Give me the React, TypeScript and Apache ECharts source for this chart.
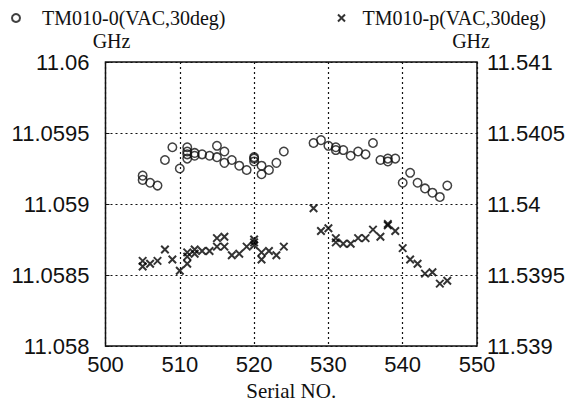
import React, { useEffect, useRef } from "react";
import * as echarts from "echarts";

// TM010-0 mode (left axis, GHz)
const mode0Serial = [
  505, 505, 506, 507, 508, 509, 510, 511, 511, 511, 511, 512, 512, 513, 514, 515, 515, 516, 516, 517, 518, 519,
  520, 520, 520, 521, 521, 522, 523, 524, 528, 529, 530, 531, 531, 532, 533, 534, 535, 536, 537, 538, 538, 539,
  540, 541, 542, 543, 544, 545, 546,
];
const mode0GHz = [
  11.0592, 11.05917, 11.05915, 11.05913, 11.05931, 11.0594, 11.05925, 11.0594, 11.05937, 11.05935, 11.05932,
  11.05936, 11.05934, 11.05935, 11.05934, 11.05941, 11.05933, 11.05937, 11.05929, 11.05931, 11.05927, 11.05924,
  11.05933, 11.05932, 11.0593, 11.05927, 11.05921, 11.05924, 11.05929, 11.05937, 11.05943, 11.05945, 11.05941,
  11.0594, 11.05938, 11.05938, 11.05934, 11.05937, 11.05935, 11.05943, 11.05931, 11.05932, 11.0593, 11.05932,
  11.05915, 11.05922, 11.05915, 11.05911, 11.05908, 11.05905, 11.05913,
];

// TM010-p mode (right axis, GHz)
const modePSerial = [
  505, 505, 506, 507, 508, 509, 510, 511, 511, 511, 512, 512, 513, 514, 515, 515, 516, 516, 517, 518, 519, 520,
  520, 520, 521, 521, 522, 523, 524, 528, 529, 530, 531, 531, 532, 533, 534, 535, 536, 537, 538, 538, 539, 540,
  541, 542, 543, 544, 545, 546,
];
const modePGHz = [
  11.5396, 11.53956, 11.53958, 11.5396, 11.53968, 11.53961, 11.53953, 11.53966, 11.53963, 11.53958, 11.53968,
  11.53965, 11.53967, 11.53967, 11.53976, 11.5397, 11.53977, 11.5397, 11.53964, 11.53965, 11.5397, 11.53975,
  11.53973, 11.53971, 11.53966, 11.53961, 11.53967, 11.53964, 11.5397, 11.53997, 11.53981, 11.53983, 11.53976,
  11.53973, 11.53972, 11.53972, 11.53976, 11.53976, 11.53982, 11.53977, 11.53986, 11.53985, 11.53981, 11.53969,
  11.53961, 11.53958, 11.53951, 11.53952, 11.53944, 11.53946,
];

const name0 = "TM010-0(VAC,30deg)";
const nameP = "TM010-p(VAC,30deg)";
const xAxisTitle = "Serial NO.";
const unitLabel = "GHz";

const ink = "#111111";
const serif = "'Liberation Serif', 'DejaVu Serif', serif";
const sans = "'Liberation Sans', Arial, sans-serif";
const crossPath = "path://M0,0L10,10M10,0L0,10";

const fmt = (v: number) => String(parseFloat(v.toFixed(4)));

export default function App() {
  const ref = useRef<HTMLDivElement>(null);

  useEffect(() => {
    document.body.style.margin = "0";
    const chart = echarts.init(ref.current!, null, { renderer: "svg" });
    const dotted = { show: true, lineStyle: { color: ink, type: [2, 3] as any, width: 1.2 } };
    chart.setOption({
      animation: false,
      backgroundColor: "#ffffff",
      legend: [
        {
          data: [name0],
          left: 6,
          top: 3,
          itemWidth: 18,
          itemHeight: 8,
          textStyle: { fontFamily: serif, fontSize: 20, color: ink, padding: [0, 0, 0, 12] },
        },
        {
          data: [nameP],
          left: 332,
          top: 3,
          itemWidth: 16,
          itemHeight: 7,
          textStyle: { fontFamily: serif, fontSize: 20, color: ink, padding: [0, 0, 0, 8] },
        },
      ],
      grid: {
        left: 105.5,
        right: 94,
        top: 62,
        bottom: 51,
        show: true,
        borderColor: ink,
        borderWidth: 1.5,
      },
      xAxis: {
        type: "value",
        min: 500,
        max: 550,
        interval: 10,
        name: xAxisTitle,
        nameLocation: "middle",
        nameGap: 30,
        nameTextStyle: { fontFamily: serif, fontSize: 21, color: ink },
        axisLine: { show: false },
        axisTick: { show: false },
        axisLabel: { fontFamily: sans, fontSize: 22, color: ink, margin: 7 },
        splitLine: dotted,
      },
      yAxis: [
        {
          type: "value",
          position: "left",
          min: 11.058,
          max: 11.06,
          interval: 0.0005,
          name: unitLabel,
          nameLocation: "end",
          nameGap: 8,
          nameTextStyle: { fontFamily: serif, fontSize: 20, color: ink, padding: [0, 0, 0, 12] },
          axisLine: { show: false },
          axisTick: { show: true, inside: true, length: 4, lineStyle: { color: ink } },
          axisLabel: { fontFamily: sans, fontSize: 22, color: ink, margin: 16, formatter: fmt },
          splitLine: dotted,
        },
        {
          type: "value",
          position: "right",
          min: 11.539,
          max: 11.541,
          interval: 0.0005,
          name: unitLabel,
          nameLocation: "end",
          nameGap: 8,
          nameTextStyle: { fontFamily: serif, fontSize: 20, color: ink, padding: [0, 12, 0, 0] },
          axisLine: { show: false },
          axisTick: { show: false },
          axisLabel: { fontFamily: sans, fontSize: 22, color: ink, margin: 10, formatter: fmt },
          splitLine: { show: false },
        },
      ],
      series: [
        {
          name: name0,
          type: "scatter",
          yAxisIndex: 0,
          symbol: "circle",
          symbolSize: 8.5,
          itemStyle: { color: "rgba(255,255,255,0)", borderColor: ink, borderWidth: 1.5 },
          data: mode0Serial.map((s, i) => [s, mode0GHz[i]]),
        },
        {
          name: nameP,
          type: "scatter",
          yAxisIndex: 1,
          symbol: crossPath,
          symbolSize: 7.5,
          itemStyle: { color: "rgba(255,255,255,0)", borderColor: "#000000", borderWidth: 2 },
          data: modePSerial.map((s, i) => [s, modePGHz[i]]),
        },
      ],
    });
    return () => chart.dispose();
  }, []);

  return <div ref={ref} style={{ width: 571, height: 406 }} />;
}
